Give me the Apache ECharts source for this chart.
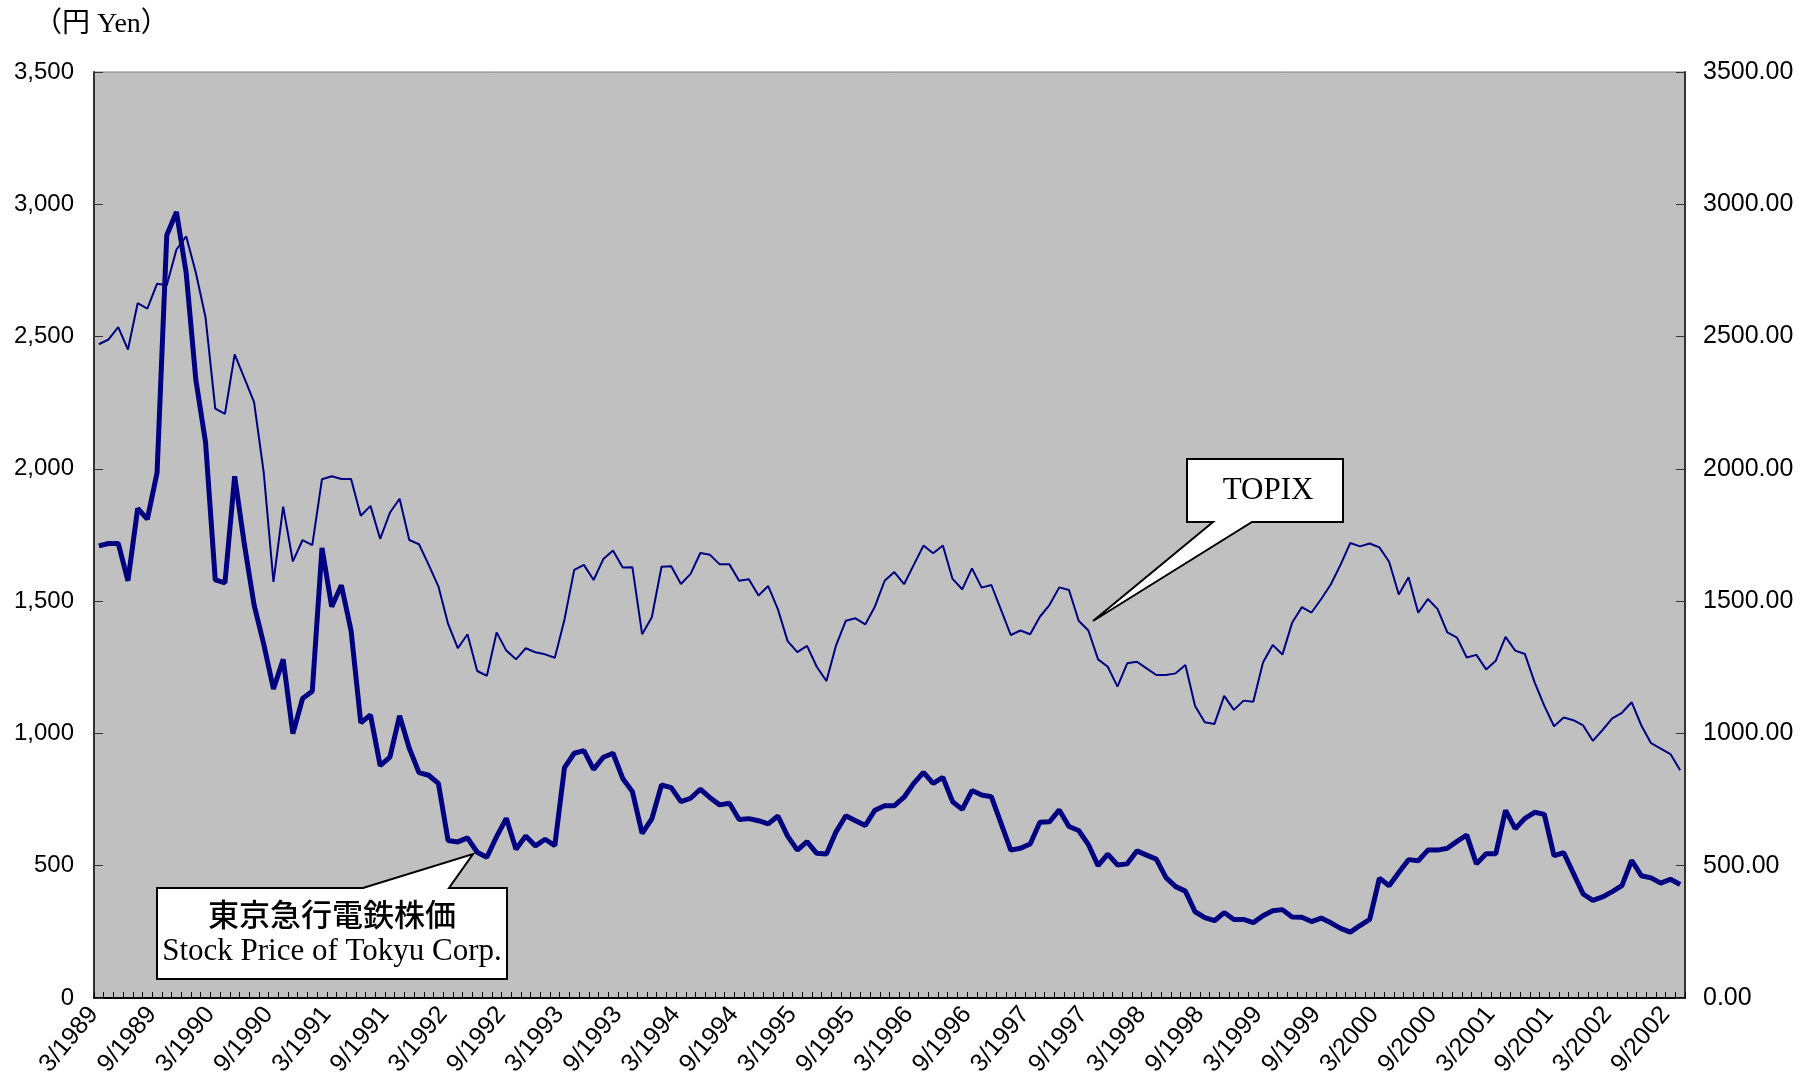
<!DOCTYPE html>
<html>
<head>
<meta charset="utf-8">
<script src="https://cdn.jsdelivr.net/npm/echarts@6/dist/echarts.min.js"></script>
<style>
  html, body { margin: 0; padding: 0; background: #fff; }
  #chart { width: 1799px; height: 1091px; }
</style>
</head>
<body>
<div id="chart"></div>
<script>
// month labels, 3/1989 .. 10/2002
var startYear = 1989, startMonth = 3, monthCount = 164;
var months = [];
for (var k = 0; k < monthCount; k++) {
    var m = (startMonth - 1 + k) % 12 + 1;
    var y = startYear + Math.floor((startMonth - 1 + k) / 12);
    months.push(m + '/' + y);
}

// 東京急行電鉄株価 (円), month end
var tokyuPrice = [
    1709, 1718, 1718, 1577, 1850, 1810, 1985, 2883, 2971, 2741,
    2336, 2100, 1580, 1569, 1972, 1715, 1486, 1337, 1168, 1280,
    999, 1132, 1159, 1701, 1479, 1560, 1388, 1040, 1070, 878,
    910, 1067, 944, 852, 842, 811, 595, 590, 605, 551,
    532, 610, 679, 562, 612, 575, 600, 576, 871, 925,
    935, 864, 910, 925, 830, 780, 622, 677, 805, 795,
    742, 755, 789, 757, 730, 736, 675, 678, 670, 658,
    688, 612, 559, 591, 547, 544, 629, 689, 670, 652,
    710, 727, 727, 759, 811, 853, 811, 834, 742, 713,
    784, 767, 761, 660, 559, 566, 582, 664, 666, 711,
    648, 633, 580, 500, 544, 503, 507, 556, 540, 525,
    455, 421, 404, 326, 304, 292, 323, 297, 297, 285,
    311, 330, 334, 306, 305, 289, 302, 284, 263, 249,
    274, 297, 453, 424, 474, 523, 519, 559, 559, 566,
    592, 616, 507, 545, 545, 709, 640, 679, 702, 694,
    538, 549, 471, 393, 369, 382, 402, 425, 520, 462,
    454, 434, 449, 429
];

// TOPIX, month end
var topix = [
    2471, 2489, 2536, 2451, 2626, 2606, 2700, 2694, 2829, 2879,
    2741, 2572, 2228, 2208, 2433, 2343, 2252, 1985, 1573, 1857,
    1650, 1731, 1712, 1961, 1972, 1962, 1962, 1823, 1860, 1735,
    1834, 1887, 1731, 1715, 1637, 1556, 1414, 1322, 1375, 1236,
    1218, 1382, 1313, 1280, 1322, 1307, 1299, 1286, 1431, 1618,
    1637, 1580, 1659, 1691, 1627, 1628, 1375, 1439, 1630, 1632,
    1565, 1603, 1682, 1675, 1639, 1639, 1577, 1583, 1521, 1557,
    1469, 1349, 1307, 1331, 1252, 1198, 1334, 1426, 1435, 1412,
    1480, 1577, 1610, 1564, 1637, 1710, 1681, 1710, 1584, 1545,
    1624, 1551, 1561, 1467, 1372, 1389, 1375, 1441, 1486, 1552,
    1542, 1426, 1389, 1280, 1252, 1177, 1265, 1271, 1246, 1221,
    1221, 1227, 1259, 1104, 1042, 1036, 1142, 1089, 1124, 1120,
    1268, 1334, 1298, 1418, 1477, 1457, 1508, 1564, 1638, 1720,
    1707, 1718, 1703, 1649, 1525, 1590, 1456, 1508, 1470, 1382,
    1362, 1287, 1297, 1242, 1275, 1365, 1313, 1300, 1193, 1104,
    1027, 1060, 1050, 1030, 972, 1013, 1057, 1078, 1118, 1030,
    963, 943, 922, 861
];

var yMin = 0, yMax = 3500, yStep = 500;
var lineColor = '#000080';
var sansFont = "'Liberation Sans', Arial, sans-serif";
var serifFont = "'Liberation Serif', 'Times New Roman', 'Noto Sans CJK JP', serif";

var chart = echarts.init(document.getElementById('chart'));
var option = {
    animation: false,
    backgroundColor: '#ffffff',
    grid: {
        left: 94, right: 114, top: 72, bottom: 93,
        show: true,
        backgroundColor: '#C0C0C0',
        borderColor: '#808080',
        borderWidth: 1
    },
    xAxis: {
        type: 'category',
        data: months,
        boundaryGap: true,
        axisLine: { lineStyle: { color: '#000', width: 2 } },
        axisTick: { show: true, inside: true, length: 6, interval: 0, lineStyle: { color: '#000' } },
        axisLabel: {
            interval: 5,
            rotate: 50,
            margin: 6,
            padding: [0, 8, 0, 0],
            fontFamily: sansFont,
            fontSize: 25,
            color: '#000'
        },
        splitLine: { show: false }
    },
    yAxis: [
        {
            type: 'value',
            min: yMin, max: yMax, interval: yStep,
            position: 'left',
            axisLine: { show: true, lineStyle: { color: '#333', width: 2 } },
            axisTick: { show: true, inside: true, length: 9, lineStyle: { color: '#333' } },
            axisLabel: {
                margin: 20,
                fontFamily: sansFont,
                fontSize: 24,
                color: '#000',
                formatter: function (v) { return v.toLocaleString('en-US'); }
            },
            splitLine: { show: false }
        },
        {
            type: 'value',
            min: yMin, max: yMax, interval: yStep,
            position: 'right',
            axisLine: { show: true, lineStyle: { color: '#333', width: 2 } },
            axisTick: { show: true, inside: true, length: 9, lineStyle: { color: '#333' } },
            axisLabel: {
                margin: 18,
                fontFamily: sansFont,
                fontSize: 25,
                color: '#000',
                formatter: function (v) { return v.toFixed(2); }
            },
            splitLine: { show: false }
        }
    ],
    series: [
        {
            name: 'TOPIX',
            type: 'line',
            yAxisIndex: 1,
            data: topix,
            symbol: 'none',
            lineStyle: { color: lineColor, width: 2 },
            z: 2
        },
        {
            name: '東京急行電鉄株価',
            type: 'line',
            yAxisIndex: 0,
            data: tokyuPrice,
            symbol: 'none',
            lineStyle: { color: lineColor, width: 5 },
            z: 3
        }
    ],
    graphic: [
        {
            type: 'text',
            left: 34, top: 11,
            style: {
                text: '（円 Yen）',
                font: "28px 'Liberation Serif', 'Noto Sans CJK JP', serif",
                fill: '#000'
            }
        },
        // TOPIX callout
        {
            type: 'polygon',
            z: 100,
            shape: {
                points: [[1187, 459], [1343, 459], [1343, 522], [1252, 522],
                         [1093, 621], [1213, 522], [1187, 522]]
            },
            style: { fill: '#fff', stroke: '#000', lineWidth: 2 }
        },
        {
            type: 'text',
            z: 101,
            x: 1268, y: 491,
            style: {
                text: 'TOPIX',
                font: "31px " + serifFont,
                fill: '#000',
                align: 'center',
                verticalAlign: 'middle'
            }
        },
        // Tokyu callout
        {
            type: 'polygon',
            z: 100,
            shape: {
                points: [[157, 888], [363, 888], [473, 854], [449, 888],
                         [507, 888], [507, 979], [157, 979]]
            },
            style: { fill: '#fff', stroke: '#000', lineWidth: 2 }
        },
        {
            type: 'text',
            z: 101,
            x: 332, y: 914,
            style: {
                text: '東京急行電鉄株価',
                font: "500 31px 'Noto Sans CJK JP', sans-serif",
                fill: '#000',
                align: 'center',
                verticalAlign: 'middle'
            }
        },
        {
            type: 'text',
            z: 101,
            x: 332, y: 952,
            style: {
                text: 'Stock Price of Tokyu Corp.',
                font: "31px " + serifFont,
                fill: '#000',
                align: 'center',
                verticalAlign: 'middle'
            }
        }
    ]
};
chart.setOption(option);
window.addEventListener('resize', function () { chart.resize(); });
</script>
</body>
</html>
